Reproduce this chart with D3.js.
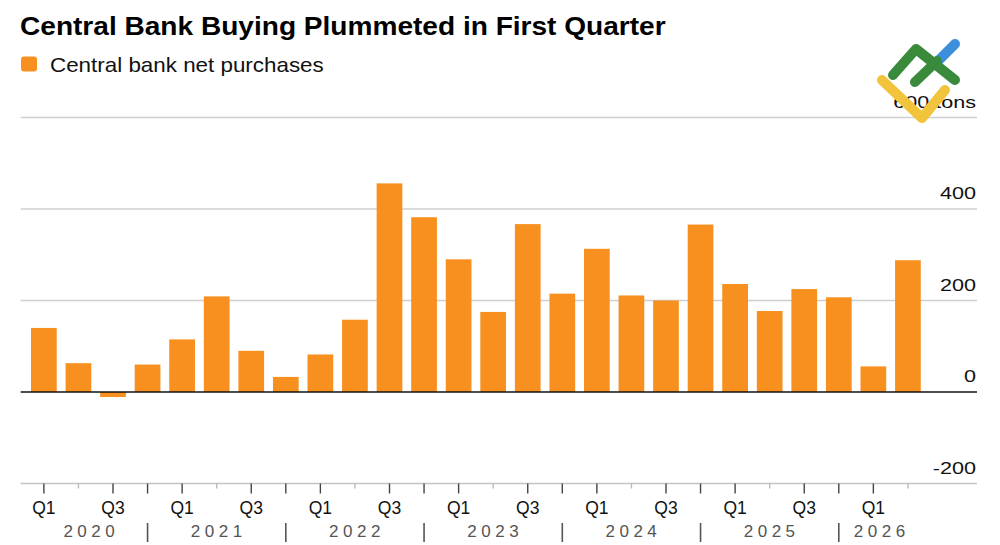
<!DOCTYPE html>
<html>
<head>
<meta charset="utf-8">
<script src="https://cdn.jsdelivr.net/npm/d3@7"></script>
<style>
  body { margin: 0; background: #fff; }
  svg { display: block; font-family: "Liberation Sans", Arial, sans-serif; }
</style>
</head>
<body>
<script>
// data (tonnes)
const years = ['2020', '2021', '2022', '2023', '2024', '2025', '2026']
const periods = [
  '2020 Q1', '2020 Q2', '2020 Q3', '2020 Q4',
  '2021 Q1', '2021 Q2', '2021 Q3', '2021 Q4',
  '2022 Q1', '2022 Q2', '2022 Q3', '2022 Q4',
  '2023 Q1', '2023 Q2', '2023 Q3', '2023 Q4',
  '2024 Q1', '2024 Q2', '2024 Q3', '2024 Q4',
  '2025 Q1', '2025 Q2', '2025 Q3', '2025 Q4',
  '2026 Q1', '2026 Q2'
]
const purchases = [
  140, 63, -11, 60,
  115, 209, 90, 33,
  82, 158, 456, 382,
  290, 175, 367, 215,
  313, 211, 200, 366,
  236, 177, 225, 207,
  56, 288
]
const yTicks = [600, 400, 200, 0, -200]
const shownQuarters = ['Q1', 'Q3']

const width = 1000, height = 545
const left = 20.7, right = 977
const orange = '#f7901e'
const font = '"Liberation Sans", Arial, sans-serif'

const svg = d3.select('body').append('svg')
  .attr('width', width)
  .attr('height', height)

const y = d3.scaleLinear().domain([-200, 600]).range([483.5, 117.5])
const x = d3.scaleBand()
  .domain(periods)
  .range([26.6, 925.2])
  .paddingInner(0.256)
  .paddingOuter(0.128)

// the source font is a bit wider than Arial, so stretch text horizontally
const wideText = (parent, tx, ty, sx) => parent.append('g')
  .attr('transform', `translate(${tx}, ${ty}) scale(${sx}, 1)`)
  .append('text')

// title + legend
wideText(svg, 20, 35, 1.08)
  .attr('font-size', 26).attr('font-weight', 'bold')
  .attr('fill', '#000')
  .text('Central Bank Buying Plummeted in First Quarter')

svg.append('rect')
  .attr('x', 21).attr('y', 56.5).attr('width', 16).attr('height', 15)
  .attr('rx', 3).attr('fill', orange)
wideText(svg, 50, 72, 1.12)
  .attr('font-size', 20).attr('fill', '#111')
  .text('Central bank net purchases')

// gridlines
const grid = svg.append('g')
grid.selectAll('line')
  .data(yTicks.filter(d => d !== 0))
  .enter()
  .append('line')
  .attr('x1', left).attr('x2', right)
  .attr('y1', d => y(d)).attr('y2', d => y(d))
  .attr('stroke', d => d === -200 ? '#c4c4c4' : '#cfcfcf')
  .attr('stroke-width', 1.3)

yTicks.forEach(d => {
  wideText(grid, right - 1, y(d) - 10, 1.27)
    .attr('text-anchor', 'end')
    .attr('font-size', 17).attr('fill', '#111')
    .text(d === 600 ? '600 tons' : d)
})

// bars
svg.append('g')
  .selectAll('rect')
  .data(purchases)
  .enter()
  .append('rect')
  .attr('x', (d, i) => x(periods[i]))
  .attr('y', d => y(Math.max(0, d)))
  .attr('width', x.bandwidth())
  .attr('height', d => Math.abs(y(d) - y(0)))
  .attr('fill', orange)

// zero line
svg.append('line')
  .attr('x1', left).attr('x2', right)
  .attr('y1', y(0)).attr('y2', y(0))
  .attr('stroke', '#111').attr('stroke-width', 1.6)

// x axis: quarter ticks
const cx = p => x(p) + x.bandwidth() / 2
const xAxis = d3.axisBottom(x)
  .tickSize(0)
  .tickFormat(p => shownQuarters.includes(p.split(' ')[1]) ? p.split(' ')[1] : '')

const axisG = svg.append('g')
  .attr('transform', `translate(0, ${y(-200)})`)
  .call(xAxis)
axisG.select('.domain').remove()
axisG.selectAll('.tick text')
  .attr('y', 30)
  .attr('dy', 0)
  .attr('font-size', 17.5)
  .attr('font-family', font)
  .attr('fill', '#111')
axisG.selectAll('.tick')
  .append('line')
  .attr('y1', 0)
  .attr('y2', p => p.endsWith('Q2') ? 5 : 10)
  .attr('stroke', p => p.endsWith('Q2') ? '#bbb' : '#444')
  .attr('stroke-width', 1.4)

// year row with separators at Q4 positions
const seps = years.slice(0, -1).map(yr => cx(yr + ' Q4'))
const bounds = [x(periods[0])].concat(seps, [x(periods[periods.length - 1]) + x.bandwidth()])

svg.append('g')
  .selectAll('line')
  .data(seps)
  .enter()
  .append('line')
  .attr('x1', d => d).attr('x2', d => d)
  .attr('y1', 523).attr('y2', 542)
  .attr('stroke', '#555').attr('stroke-width', 1.6)

svg.append('g')
  .selectAll('text')
  .data(years)
  .enter()
  .append('text')
  .attr('x', (d, i) => (bounds[i] + bounds[i + 1]) / 2 + 2)
  .attr('y', 537)
  .attr('text-anchor', 'middle')
  .attr('font-size', 17)
  .attr('letter-spacing', 4.5)
  .attr('fill', '#555')
  .text(d => d)

// watermark logo (top right)
const logo = svg.append('g')
  .attr('fill', 'none')
  .attr('stroke-width', 10)
  .attr('stroke-linecap', 'round')
  .attr('stroke-linejoin', 'round')
logo.append('path').attr('d', 'M937 62 L955 44').attr('stroke', '#3d8fdc')
logo.append('path').attr('d', 'M893 75 L916 49 L955 80').attr('stroke', '#3a8a3c')
logo.append('path').attr('d', 'M915 82 L937 61').attr('stroke', '#3a8a3c')
logo.append('path').attr('d', 'M882 80 L922 118 L945 90').attr('stroke', '#f2c43c')
</script>
</body>
</html>
